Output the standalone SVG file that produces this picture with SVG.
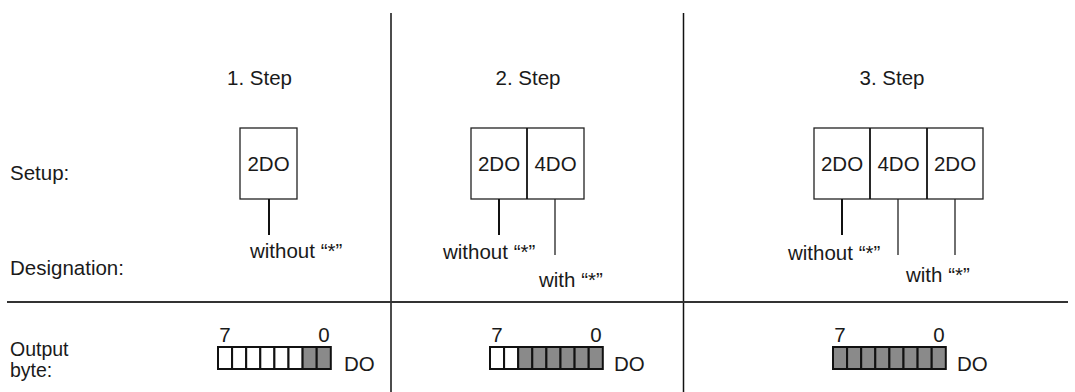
<svg xmlns="http://www.w3.org/2000/svg" width="1075" height="392" viewBox="0 0 1075 392">
<style>
text{font-family:"Liberation Sans",Arial,sans-serif;font-size:20.5px;fill:#1a1a1a}
.c{text-anchor:middle}
.sm{font-size:19.5px}
.box{fill:#fff;stroke:#222;stroke-width:1.3}
.div{stroke:#111;stroke-width:1.8}
.thick{stroke:#111;stroke-width:2}
.thin{stroke:#222;stroke-width:1.3}
.sep{stroke:#111;stroke-width:1.5}
.cw{fill:#fff;stroke:#111;stroke-width:2}
.cg{fill:#8a8a8a;stroke:#111;stroke-width:2}
</style>
<defs>
<rect id="w" class="cw" width="14.1" height="22"/>
<rect id="g" class="cg" width="14.1" height="22"/>
</defs>
<g id="grid">
<line class="sep" x1="391" y1="13" x2="391" y2="392"/>
<line class="sep" x1="683.5" y1="13" x2="683.5" y2="392"/>
<line x1="7" y1="302" x2="1068" y2="302" stroke="#333" stroke-width="2"/>
</g>
<g id="labels">
<text x="10" y="180">Setup:</text>
<text x="10" y="275">Designation:</text>
<text class="sm" x="10" y="356">Output</text>
<text class="sm" x="10" y="377">byte:</text>
</g>
<g id="step1">
<text class="c" x="259.5" y="85">1. Step</text>
<rect class="box" x="240" y="128" width="57" height="71"/>
<text class="c" x="268.5" y="171">2DO</text>
</g>
<g id="step2">
<text class="c" x="528" y="85">2. Step</text>
<rect class="box" x="471" y="128" width="113" height="71"/>
<line class="div" x1="527" y1="128" x2="527" y2="199"/>
<text class="c" x="499" y="171">2DO</text>
<text class="c" x="555.5" y="171">4DO</text>
</g>
<g id="step3">
<text class="c" x="892" y="85">3. Step</text>
<rect class="box" x="814" y="128" width="169" height="71"/>
<line class="div" x1="870" y1="128" x2="870" y2="199"/>
<line class="div" x1="927" y1="128" x2="927" y2="199"/>
<text class="c" x="842" y="171">2DO</text>
<text class="c" x="898.5" y="171">4DO</text>
<text class="c" x="955" y="171">2DO</text>
</g>
<g id="connectors">
<line class="thick" x1="269" y1="199" x2="269" y2="235"/>
<line class="thick" x1="499" y1="199" x2="499" y2="235"/>
<line class="thin" x1="555" y1="199" x2="555" y2="255"/>
<line class="thick" x1="842" y1="199" x2="842" y2="235"/>
<line class="thin" x1="898" y1="199" x2="898" y2="255"/>
<line class="thin" x1="955" y1="199" x2="955" y2="255"/>
</g>
<g id="designations">
<text x="250" y="258">without “*”</text>
<text x="443" y="259">without “*”</text>
<text x="539" y="287">with “*”</text>
<text x="788" y="260">without “*”</text>
<text x="906" y="282">with “*”</text>
</g>
<g id="byte1">
<text class="c" x="225" y="342">7</text>
<text class="c" x="324" y="342">0</text>
<use href="#w" x="218" y="347"/><use href="#w" x="232.1" y="347"/><use href="#w" x="246.2" y="347"/><use href="#w" x="260.3" y="347"/>
<use href="#w" x="274.4" y="347"/><use href="#w" x="288.5" y="347"/><use href="#g" x="302.6" y="347"/><use href="#g" x="316.7" y="347"/>
<text x="344" y="371">DO</text>
</g>
<g id="byte2">
<text class="c" x="497" y="342">7</text>
<text class="c" x="596" y="342">0</text>
<use href="#w" x="490" y="347"/><use href="#w" x="504.1" y="347"/><use href="#g" x="518.2" y="347"/><use href="#g" x="532.3" y="347"/>
<use href="#g" x="546.4" y="347"/><use href="#g" x="560.5" y="347"/><use href="#g" x="574.6" y="347"/><use href="#g" x="588.7" y="347"/>
<text x="614" y="371">DO</text>
</g>
<g id="byte3">
<text class="c" x="840" y="342">7</text>
<text class="c" x="939" y="342">0</text>
<use href="#g" x="833" y="347"/><use href="#g" x="847.1" y="347"/><use href="#g" x="861.2" y="347"/><use href="#g" x="875.3" y="347"/>
<use href="#g" x="889.4" y="347"/><use href="#g" x="903.5" y="347"/><use href="#g" x="917.6" y="347"/><use href="#g" x="931.7" y="347"/>
<text x="957" y="371">DO</text>
</g>
</svg>
